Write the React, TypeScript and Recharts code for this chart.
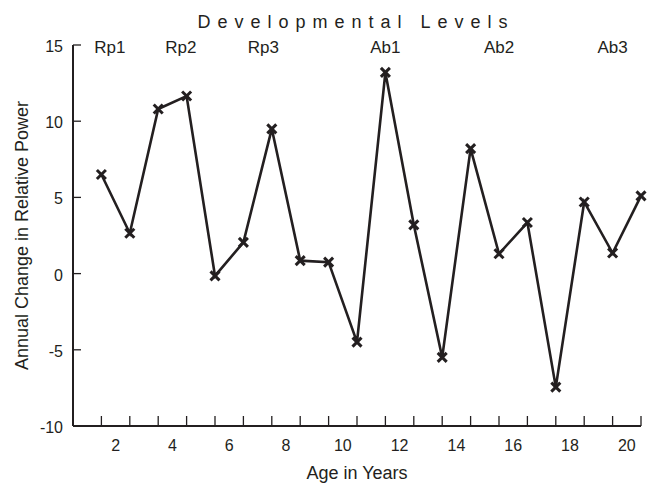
import React from 'react';
import { LineChart, Line, XAxis, YAxis, ReferenceDot } from 'recharts';

const ages = [1.5, 2.5, 3.5, 4.5, 5.5, 6.5, 7.5, 8.5, 9.5, 10.5, 11.5, 12.5, 13.5, 14.5, 15.5, 16.5, 17.5, 18.5, 19.5, 20.5];
const powerChange = [6.5, 2.65, 10.8, 11.65, -0.15, 2.05, 9.5, 0.85, 0.75, -4.5, 13.2, 3.2, -5.5, 8.2, 1.3, 3.35, -7.45, 4.7, 1.35, 5.1];
const xTickLabels = [2, 4, 6, 8, 10, 12, 14, 16, 18, 20];
const xTickMarks = [1.5, 2.5, 3.5, 4.5, 5.5, 6.5, 7.5, 8.5, 9.5, 10.5, 11.5, 12.5, 13.5, 14.5, 15.5, 16.5, 17.5, 18.5, 19.5, 20.5];
const yTicks = [-10, -5, 0, 5, 10, 15];
const levelNames = ['Rp1', 'Rp2', 'Rp3', 'Ab1', 'Ab2', 'Ab3'];
const levelAges = [1.8, 4.3, 7.2, 11.5, 15.5, 19.5];

const data = ages.map((a, i) => ({ age: a, value: powerChange[i] }));
const INK = '#231f20';
const FONT = '"Liberation Sans", Arial, sans-serif';

const XTick = (props: any) => {
  const { x, y, payload } = props;
  const v = payload.value;
  if (xTickLabels.includes(v)) {
    return (
      <text x={x} y={y + 25} textAnchor="middle" fontSize={16} fontFamily={FONT} fill={INK}>
        {v}
      </text>
    );
  }
  return <line x1={x} x2={x} y1={y} y2={y - 10} stroke={INK} strokeWidth={1.3} />;
};

const YTick = (props: any) => {
  const { x, y, payload } = props;
  return (
    <g>
      <line x1={x} x2={x + 8} y1={y} y2={y} stroke={INK} strokeWidth={1.3} />
      <text x={x - 10} y={y + 7} textAnchor="end" fontSize={16} fontFamily={FONT} fill={INK}>
        {payload.value}
      </text>
    </g>
  );
};

const XDot = (props: any) => {
  const { cx, cy } = props;
  if (cx == null || cy == null) return null;
  const s = 4.5;
  return (
    <g>
      <line x1={cx - s} y1={cy - s} x2={cx + s} y2={cy + s} stroke={INK} strokeWidth={3} />
      <line x1={cx - s} y1={cy + s} x2={cx + s} y2={cy - s} stroke={INK} strokeWidth={3} />
    </g>
  );
};

export default function App() {
  return (
    <div style={{ position: 'absolute', left: 0, top: 0, width: 652, height: 485, background: '#fff' }}>
      <LineChart width={652} height={485} data={data} margin={{ top: 45, right: 11, bottom: 0, left: 0 }}>
        <XAxis
          dataKey="age"
          type="number"
          domain={[0.5, 20.5]}
          ticks={[...xTickMarks, ...xTickLabels]}
          interval={0}
          tickSize={0}
          tickMargin={0}
          tickLine={false}
          height={59}
          axisLine={{ stroke: INK, strokeWidth: 2 }}
          tick={<XTick />}
          label={{
            content: (p: any) => {
              const vb = p.viewBox || {};
              return (
                <text x={vb.x + vb.width / 2} y={479} textAnchor="middle" fontSize={18} fontFamily={FONT} fill={INK}>
                  Age in Years
                </text>
              );
            },
          }}
        />
        <YAxis
          type="number"
          domain={[-10, 15]}
          ticks={yTicks}
          interval={0}
          width={73}
          tickSize={0}
          tickMargin={0}
          tickLine={false}
          axisLine={{ stroke: INK, strokeWidth: 2 }}
          tick={<YTick />}
          label={{
            content: (p: any) => {
              const vb = p.viewBox || {};
              const cy = vb.y + vb.height / 2;
              return (
                <text
                  x={28}
                  y={cy}
                  transform={`rotate(-90, 28, ${cy})`}
                  textAnchor="middle"
                  fontSize={18}
                  fontFamily={FONT}
                  fill={INK}
                >
                  Annual Change in Relative Power
                </text>
              );
            },
          }}
        />
        {levelNames.map((name, i) => (
          <ReferenceDot
            key={name}
            x={levelAges[i]}
            y={15}
            r={0}
            ifOverflow="visible"
            label={{
              content: (p: any) => {
                const vb = p.viewBox || {};
                const cx = vb.x + (vb.width || 0) / 2;
                const cy = vb.y + (vb.height || 0) / 2;
                return (
                  <text x={cx} y={cy + 8} textAnchor="middle" fontSize={17} fontFamily={FONT} fill={INK}>
                    {name}
                  </text>
                );
              },
            }}
          />
        ))}
        <Line
          type="linear"
          dataKey="value"
          stroke={INK}
          strokeWidth={2.6}
          dot={<XDot />}
          activeDot={false}
          isAnimationActive={false}
        />
      </LineChart>
      <svg width={652} height={40} style={{ position: 'absolute', left: 0, top: 0, pointerEvents: 'none' }}>
        <text x={356} y={28} textAnchor="middle" fontSize={18} fontFamily={FONT} fill={INK} letterSpacing={7}>
          Developmental Levels
        </text>
      </svg>
    </div>
  );
}
